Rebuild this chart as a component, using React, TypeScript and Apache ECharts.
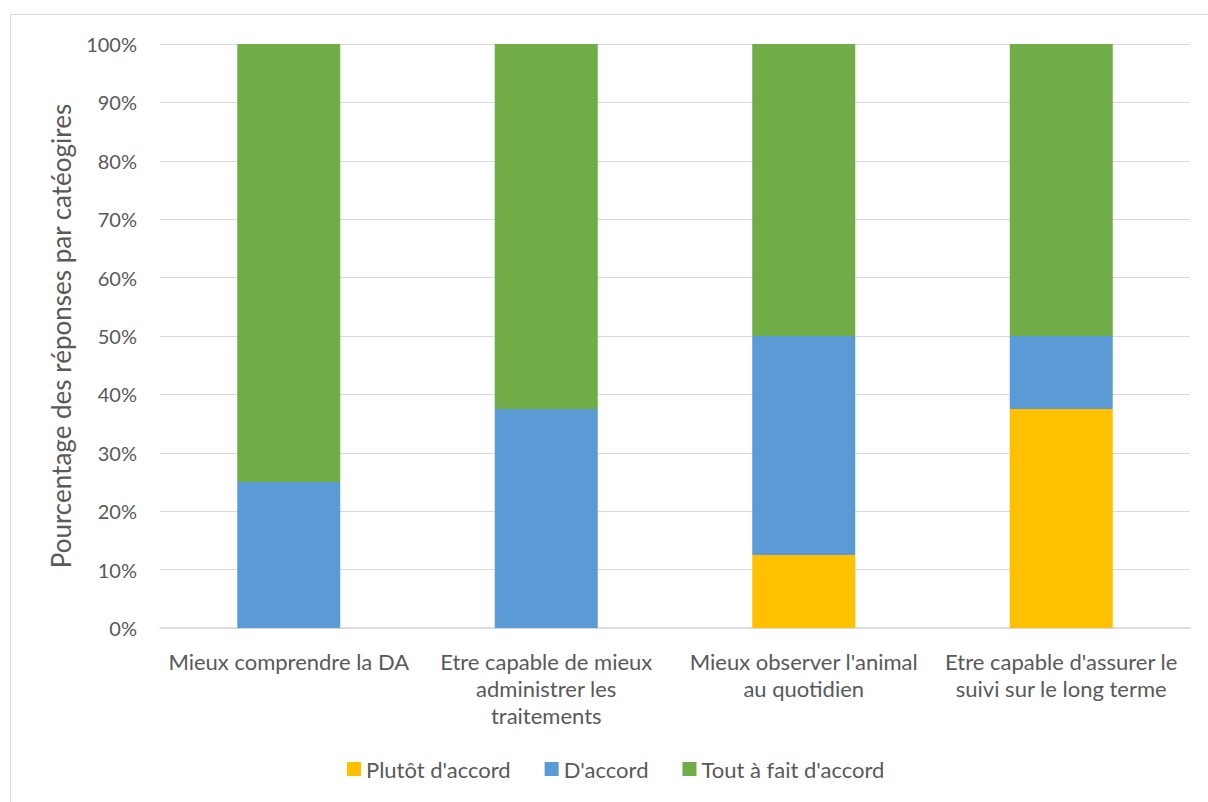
import React, { useEffect, useRef } from "react";
import * as echarts from "echarts";

// Categories (line breaks as they wrap under each bar)
const categories = [
  "Mieux comprendre la DA",
  "Etre capable de mieux\nadministrer les\ntraitements",
  "Mieux observer l'animal\nau quotidien",
  "Etre capable d'assurer le\nsuivi sur le long terme",
];

// Share of answers per category (%)
const plutotDaccord = [0, 0, 12.5, 37.5];
const daccord = [25, 37.5, 37.5, 12.5];
const toutAFait = [75, 62.5, 50, 50];

const seriesNames = ["Plutôt d'accord", "D'accord", "Tout à fait d'accord"];
const seriesColors = ["#FFC000", "#5B9BD5", "#70AD47"];

const FONT = "Lato, 'Noto Sans', sans-serif";
const TEXT = "#595959";

export default function App() {
  const ref = useRef<HTMLDivElement>(null);

  useEffect(() => {
    if (!ref.current) return;
    const chart = echarts.init(ref.current, undefined, { renderer: "svg" });
    const values = [plutotDaccord, daccord, toutAFait];
    chart.setOption({
      animation: false,
      textStyle: { fontFamily: FONT, color: TEXT },
      graphic: [
        {
          type: "rect",
          shape: { x: 10.5, y: 14.5, width: 1300, height: 900 },
          style: { fill: "none", stroke: "#D9D9D9", lineWidth: 1 },
          silent: true,
        },
      ],
      grid: { left: 160, right: 18, top: 44, bottom: 174 },
      legend: {
        bottom: 17,
        left: 342,
        itemWidth: 14,
        itemHeight: 14,
        itemGap: 34,
        icon: "rect",
        textStyle: { fontFamily: FONT, fontSize: 22, color: TEXT },
        data: seriesNames,
      },
      xAxis: {
        type: "category",
        data: categories,
        axisLine: { lineStyle: { color: "#D9D9D9", width: 1.5 } },
        axisTick: { show: false },
        axisLabel: {
          interval: 0,
          margin: 20,
          fontFamily: FONT,
          fontSize: 22,
          color: TEXT,
          lineHeight: 27,
        },
      },
      yAxis: {
        type: "value",
        min: 0,
        max: 100,
        interval: 10,
        name: "Pourcentage des réponses par catéogires",
        nameLocation: "middle",
        nameGap: 86,
        nameTextStyle: { fontFamily: FONT, fontSize: 26, color: TEXT },
        axisLine: { show: false },
        axisTick: { show: false },
        splitLine: { lineStyle: { color: "#D9D9D9", width: 1 } },
        axisLabel: {
          formatter: "{value}%",
          margin: 23,
          fontFamily: FONT,
          fontSize: 20,
          color: TEXT,
        },
      },
      series: seriesNames.map((name, i) => ({
        name,
        type: "bar",
        stack: "total",
        barWidth: 103,
        data: values[i],
        itemStyle: { color: seriesColors[i] },
      })),
    });
    return () => chart.dispose();
  }, []);

  return (
    <div
      ref={ref}
      style={{ position: "fixed", left: 0, top: 0, width: 1208, height: 802, background: "#fff" }}
    />
  );
}
